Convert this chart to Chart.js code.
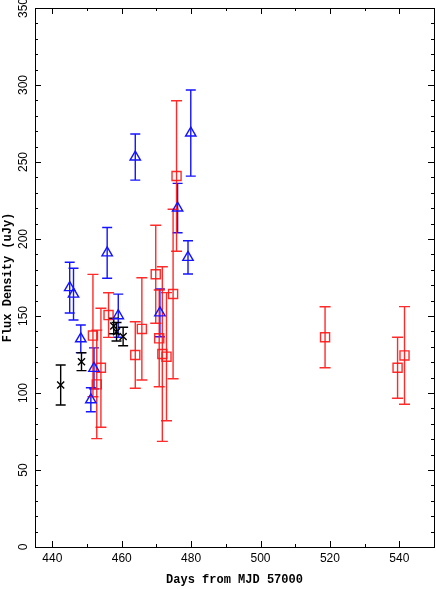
<!DOCTYPE html>
<html>
<head>
<meta charset="utf-8">
<script src="https://cdn.jsdelivr.net/npm/chart.js@4/dist/chart.umd.min.js"></script>
<style>
html,body{margin:0;padding:0;background:#fff;}
#wrap{width:436px;height:589px;}
</style>
</head>
<body>
<div id="wrap"><canvas id="c" width="436" height="589"></canvas></div>
<script>
// ---- data ----
const blueDays = [445.0, 446.1, 448.2, 452.0, 451.1, 455.8, 459.0, 463.9, 471.0, 476.1, 479.1, 479.9];
const blueFlux = [168.4, 164.2, 135.2, 116.0, 95.6, 191.0, 150.2, 253.2, 152.0, 220.1, 188.1, 268.8];
const blueErr  = [16.5, 16.8, 9.0, 13.3, 7.8, 16.5, 14.0, 15.0, 15.5, 16.0, 10.8, 28.0];

const blackDays = [442.4, 448.4, 457.7, 458.5, 460.4];
const blackFlux = [105.2, 120.3, 143.5, 139.8, 136.7];
const blackErr  = [13.0, 5.8, 5.0, 6.0, 6.0];

const redDays = [451.7, 454.0, 452.8, 456.2, 463.9, 465.8, 469.8, 470.8, 471.7, 472.9, 474.8, 475.8, 518.6, 539.5, 541.5];
const redFlux = [137.3, 116.4, 105.6, 150.6, 124.7, 141.6, 177.1, 135.5, 125.3, 123.6, 164.3, 240.9, 136.2, 116.4, 124.4];
const redErr  = [39.7, 38.6, 35.2, 14.5, 21.6, 33.2, 31.8, 31.4, 56.7, 41.6, 55.0, 48.9, 19.8, 19.8, 31.7];

const xTickLabels = [440, 460, 480, 500, 520, 540];
const yTickLabels = [0, 50, 100, 150, 200, 250, 300, 350];

const xTitle = 'Days from MJD 57000';
const yTitle = 'Flux Density (uJy)';

function pts(xs, ys, es) { return xs.map((x, i) => ({x: x, y: ys[i], e: es[i]})); }

const errorBarPlugin = {
  id: 'errbars',
  beforeDatasetsDraw(chart) {
    const ctx = chart.ctx;
    const xs = chart.scales.x, ys = chart.scales.y;
    chart.data.datasets.forEach((ds) => {
      ctx.save();
      ctx.strokeStyle = ds.borderColor;
      ctx.lineWidth = ds.borderWidth;
      const cap = ds.capHalf;
      ds.data.forEach(p => {
        const px = xs.getPixelForValue(p.x);
        const y1 = ys.getPixelForValue(p.y - p.e);
        const y2 = ys.getPixelForValue(p.y + p.e);
        ctx.beginPath();
        ctx.moveTo(px, y1); ctx.lineTo(px, y2);
        ctx.moveTo(px - cap, y1); ctx.lineTo(px + cap, y1);
        ctx.moveTo(px - cap, y2); ctx.lineTo(px + cap, y2);
        ctx.stroke();
      });
      ctx.restore();
    });
  }
};

const framePlugin = {
  id: 'frame',
  afterDraw(chart) {
    const ctx = chart.ctx;
    const a = chart.chartArea;
    const xs = chart.scales.x, ys = chart.scales.y;
    ctx.save();
    ctx.strokeStyle = '#000';
    ctx.lineWidth = 1;
    ctx.strokeRect(Math.round(a.left) + 0.5, Math.round(a.top) + 0.5,
                   Math.round(a.right - a.left), Math.round(a.bottom - a.top));
    ctx.beginPath();
    for (let v = Math.ceil(xs.min / 10) * 10; v <= xs.max; v += 10) {
      const px = Math.round(xs.getPixelForValue(v)) + 0.5;
      const L = (v % 20 === 0) ? 6 : 3;
      ctx.moveTo(px, a.bottom); ctx.lineTo(px, a.bottom - L);
      ctx.moveTo(px, a.top); ctx.lineTo(px, a.top + L);
    }
    for (let v = Math.ceil(ys.min / 10) * 10; v <= ys.max; v += 10) {
      const py = Math.round(ys.getPixelForValue(v)) + 0.5;
      const L = (v % 50 === 0) ? 6 : 3;
      ctx.moveTo(a.left, py); ctx.lineTo(a.left + L, py);
      ctx.moveTo(a.right, py); ctx.lineTo(a.right - L, py);
    }
    ctx.stroke();
    ctx.restore();
  }
};

new Chart(document.getElementById('c'), {
  type: 'scatter',
  data: {
    datasets: [
      {
        label: 'blue', data: pts(blueDays, blueFlux, blueErr),
        pointStyle: 'triangle', pointRadius: 6, borderColor: 'rgb(20,20,255)',
        backgroundColor: 'rgba(0,0,0,0)', borderWidth: 1.4, capHalf: 5
      },
      {
        label: 'black', data: pts(blackDays, blackFlux, blackErr),
        pointStyle: 'crossRot', pointRadius: 5, borderColor: 'rgb(0,0,0)',
        backgroundColor: 'rgba(0,0,0,0)', borderWidth: 1.4, capHalf: 5
      },
      {
        label: 'red', data: pts(redDays, redFlux, redErr),
        pointStyle: 'rect', pointRadius: 6.4, borderColor: 'rgba(255,20,20,0.9)',
        backgroundColor: 'rgba(0,0,0,0)', borderWidth: 1.4, capHalf: 5.5
      }
    ]
  },
  options: {
    responsive: false,
    animation: false,
    events: [],
    layout: { autoPadding: false, padding: { top: 8, right: 2, left: 0, bottom: 0 } },
    plugins: { legend: { display: false }, tooltip: { enabled: false } },
    scales: {
      x: {
        type: 'linear', min: 435, max: 550,
        afterBuildTicks: s => { s.ticks = xTickLabels.map(v => ({value: v})); },
        afterFit: s => { s.height = 42; s.paddingLeft = 0; s.paddingRight = 0; },
        grid: { display: false, drawTicks: false },
        border: { display: false },
        ticks: { color: '#000', padding: 4, font: { family: 'Liberation Sans', size: 12 } },
        title: { display: true, text: xTitle, color: '#000', padding: { top: 0, bottom: 2 },
                 font: { family: 'Liberation Mono', size: 12, weight: 'bold' } }
      },
      y: {
        type: 'linear', min: 0, max: 350,
        afterBuildTicks: s => { s.ticks = yTickLabels.map(v => ({value: v})); },
        afterFit: s => { s.width = 35; s.paddingTop = 0; s.paddingBottom = 0; },
        grid: { display: false, drawTicks: false },
        border: { display: false },
        ticks: { color: '#000', padding: 1, minRotation: 90, maxRotation: 90, crossAlign: 'center',
                 font: { family: 'Liberation Sans', size: 12 } },
        title: { display: true, text: yTitle, color: '#000', padding: { top: 1, bottom: 0 },
                 font: { family: 'Liberation Mono', size: 12, weight: 'bold' } }
      }
    }
  },
  plugins: [errorBarPlugin, framePlugin]
});
</script>
</body>
</html>
